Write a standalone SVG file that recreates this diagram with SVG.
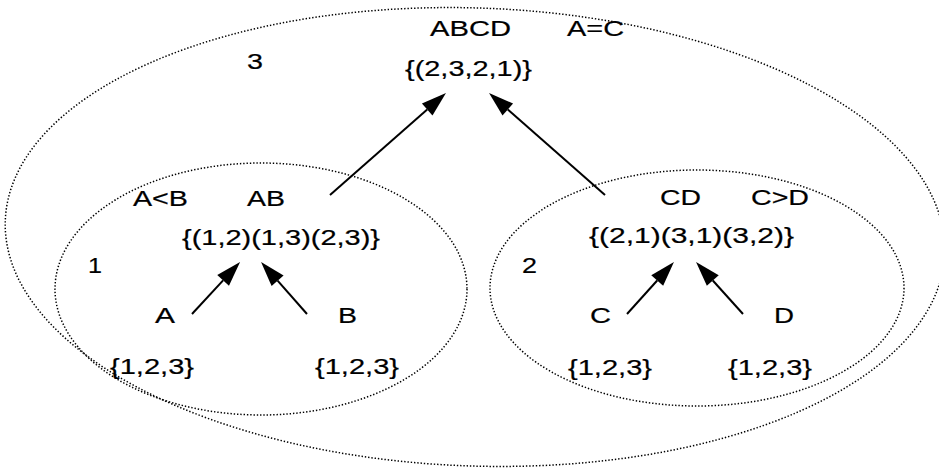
<svg xmlns="http://www.w3.org/2000/svg" width="939" height="468" viewBox="0 0 939 468">
<style>
.t{font-family:"Liberation Sans",Arial,sans-serif;font-size:22px;fill:#000;stroke:#000;stroke-width:0.2}
.e{fill:none;stroke:#000;stroke-width:1.5;stroke-dasharray:1.4 1.9}
.c{stroke:#000;stroke-width:2;fill:none;marker-end:url(#ah)}
</style>
<defs>
<marker id="ah" markerUnits="userSpaceOnUse" markerWidth="26" markerHeight="18" refX="0" refY="8" orient="auto" overflow="visible">
<path d="M0,0 L25,8 L0,16 z" fill="#000"/>
</marker>
</defs>
<rect width="939" height="468" fill="#fff"/>
<g id="node-3">
<ellipse class="e" cx="475" cy="237" rx="470" ry="229" transform="rotate(2 475 237)"/>
<text class="t" x="247" y="69" textLength="16" lengthAdjust="spacingAndGlyphs">3</text>
<text class="t" x="430" y="36" textLength="81" lengthAdjust="spacingAndGlyphs">ABCD</text>
<text class="t" x="567" y="36" textLength="57" lengthAdjust="spacingAndGlyphs">A=C</text>
<text class="t" x="405" y="76" textLength="127" lengthAdjust="spacingAndGlyphs">{(2,3,2,1)}</text>
</g>
<g id="node-1">
<ellipse class="e" cx="261" cy="289" rx="206" ry="126"/>
<text class="t" x="133" y="206" textLength="55" lengthAdjust="spacingAndGlyphs">A&lt;B</text>
<text class="t" x="247" y="206" textLength="38" lengthAdjust="spacingAndGlyphs">AB</text>
<text class="t" x="182" y="245" textLength="198" lengthAdjust="spacingAndGlyphs">{(1,2)(1,3)(2,3)}</text>
<text class="t" x="88" y="273" textLength="14" lengthAdjust="spacingAndGlyphs">1</text>
</g>
<g id="node-A">
<text class="t" x="155" y="323" textLength="20" lengthAdjust="spacingAndGlyphs">A</text>
<text class="t" x="110" y="374" textLength="84" lengthAdjust="spacingAndGlyphs">{1,2,3}</text>
</g>
<g id="node-B">
<text class="t" x="338" y="323" textLength="19" lengthAdjust="spacingAndGlyphs">B</text>
<text class="t" x="315" y="374" textLength="84" lengthAdjust="spacingAndGlyphs">{1,2,3}</text>
</g>
<g id="node-2">
<ellipse class="e" cx="697" cy="288" rx="207" ry="118"/>
<text class="t" x="660" y="205" textLength="41" lengthAdjust="spacingAndGlyphs">CD</text>
<text class="t" x="751" y="205" textLength="58" lengthAdjust="spacingAndGlyphs">C&gt;D</text>
<text class="t" x="589" y="243" textLength="205" lengthAdjust="spacingAndGlyphs">{(2,1)(3,1)(3,2)}</text>
<text class="t" x="522" y="273" textLength="15" lengthAdjust="spacingAndGlyphs">2</text>
</g>
<g id="node-C">
<text class="t" x="590" y="323" textLength="21" lengthAdjust="spacingAndGlyphs">C</text>
<text class="t" x="568" y="375" textLength="84" lengthAdjust="spacingAndGlyphs">{1,2,3}</text>
</g>
<g id="node-D">
<text class="t" x="774" y="323" textLength="20" lengthAdjust="spacingAndGlyphs">D</text>
<text class="t" x="728" y="375" textLength="84" lengthAdjust="spacingAndGlyphs">{1,2,3}</text>
</g>
<g id="connectors">
<line class="c" x1="330" y1="195" x2="427.2" y2="109.5"/>
<line class="c" x1="605" y1="195" x2="507.8" y2="109.5"/>
<line class="c" x1="192" y1="314" x2="223.1" y2="280.4"/>
<line class="c" x1="307" y1="314" x2="277.6" y2="280.7"/>
<line class="c" x1="627" y1="314" x2="657.2" y2="280.5"/>
<line class="c" x1="743" y1="314" x2="712.8" y2="280.5"/>
</g>
</svg>
